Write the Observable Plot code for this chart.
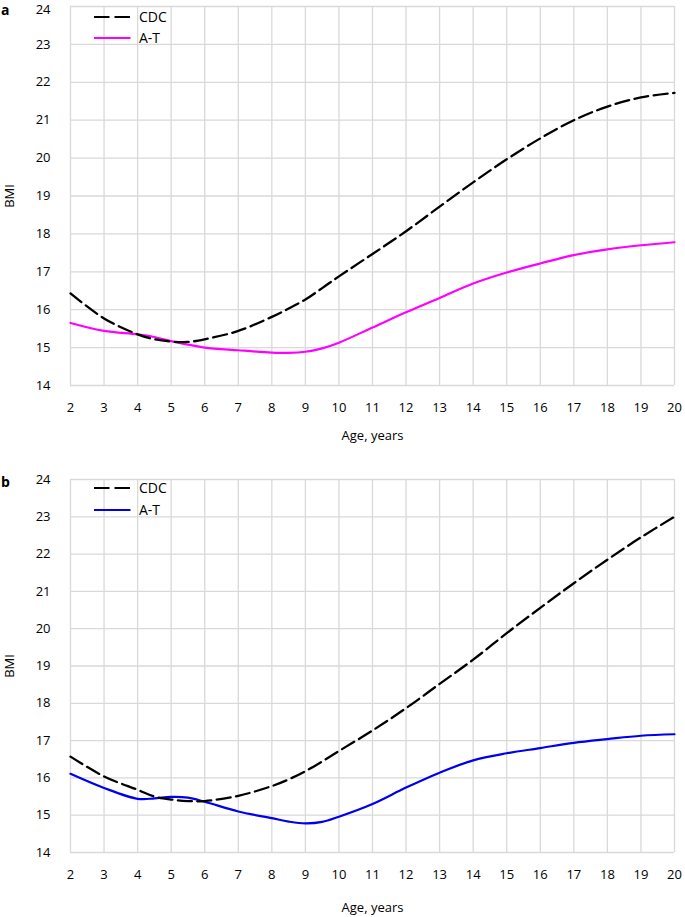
<!DOCTYPE html>
<html><head><meta charset="utf-8">
<script src="https://cdn.jsdelivr.net/npm/d3@7"></script>
<script src="https://cdn.jsdelivr.net/npm/@observablehq/plot@0.6"></script>
<style>
body{margin:0;background:#fff;font-family:"Open Sans",sans-serif;}
#wrap{position:relative;width:685px;height:917px;overflow:hidden;}
.panel{position:absolute;left:0;}
.plabel{position:absolute;left:1px;font-weight:bold;font-size:14px;line-height:14px;color:#000;font-family:"Open Sans",sans-serif;}
</style></head><body><div id="wrap"></div>
<script>
// Data
const ages = [2, 3, 4, 4.5, 5, 5.5, 6, 7, 8, 8.5, 9, 9.5, 10, 11, 12, 13, 14, 15, 16, 17, 18, 19, 20];
const cdcA = [16.43, 15.77, 15.35, 15.22, 15.16, 15.15, 15.22, 15.44, 15.81, 16.03, 16.27, 16.57, 16.88, 17.47, 18.07, 18.72, 19.36, 19.97, 20.52, 21.0, 21.36, 21.6, 21.72];
const atA  = [15.65, 15.44, 15.35, 15.28, 15.17, 15.08, 15.0, 14.93, 14.87, 14.86, 14.89, 14.98, 15.13, 15.53, 15.93, 16.31, 16.69, 16.98, 17.22, 17.44, 17.59, 17.7, 17.78];
const cdcB = [16.57, 16.04, 15.68, 15.5, 15.42, 15.38, 15.38, 15.52, 15.78, 15.96, 16.18, 16.44, 16.72, 17.27, 17.87, 18.52, 19.17, 19.88, 20.56, 21.22, 21.85, 22.45, 23.0];
const atB  = [16.11, 15.73, 15.44, 15.45, 15.49, 15.47, 15.36, 15.1, 14.92, 14.83, 14.78, 14.82, 14.96, 15.3, 15.74, 16.14, 16.47, 16.66, 16.8, 16.94, 17.04, 17.13, 17.17];
const xTicks = [2,3,4,5,6,7,8,9,10,11,12,13,14,15,16,17,18,19,20];
const yTicks = [14,15,16,17,18,19,20,21,22,23,24];
const seriesNames = ["CDC", "A-T"];
const panelLabels = ["a", "b"];
const xLabel = "Age, years";
const yLabel = "BMI";
const atColors = ["#ff00ff", "#0000ee"];

const wrap = document.getElementById("wrap");

function makePanel(cdc, at, color, top, height, mt, mb, xLabelOffset, topTickDy) {
  const rows = ages.map((a, i) => ({age: a, cdc: cdc[i], at: at[i]}));
  const lowTicks = yTicks.slice(0, -1);
  const topTick = yTicks.slice(-1);
  const chart = Plot.plot({
    width: 685, height, marginTop: mt, marginBottom: mb, marginLeft: 70, marginRight: 11,
    style: {fontFamily: "'Open Sans', sans-serif", fontSize: "13px", color: "#000", background: "transparent", overflow: "visible"},
    x: {domain: [2, 20]},
    y: {domain: [14, 24]},
    marks: [
      Plot.gridX(xTicks, {stroke: "#d9d9d9", strokeOpacity: 1, strokeWidth: 1.3}),
      Plot.gridY(yTicks, {stroke: "#d9d9d9", strokeOpacity: 1, strokeWidth: 1.3}),
      Plot.axisX(xTicks, {tickSize: 0, tickPadding: 17, label: xLabel, labelAnchor: "center", labelArrow: "none", labelOffset: xLabelOffset, fontSize: 13}),
      Plot.axisY(lowTicks, {tickSize: 0, tickPadding: 20, label: yLabel, labelAnchor: "center", labelArrow: "none", labelOffset: 66, fontSize: 13}),
      Plot.axisY(topTick, {tickSize: 0, tickPadding: 20, label: null, fontSize: 13, dy: topTickDy}),
      Plot.line(rows, {x: "age", y: "at", curve: "catmull-rom", stroke: color, strokeWidth: 2.2}),
      Plot.line(rows, {x: "age", y: "cdc", curve: "catmull-rom", stroke: "#000", strokeWidth: 2.3, strokeDasharray: "14,5.5"})
    ]
  });
  const div = document.createElement("div");
  div.className = "panel";
  div.style.top = top + "px";
  div.appendChild(chart);
  wrap.appendChild(div);
}

makePanel(cdcA, atA, atColors[0], 0, 445, 6, 60, 54, 3.5);
makePanel(cdcB, atB, atColors[1], 445, 472, 34, 65, 59, 0);

// panel labels
[[panelLabels[0], 2.5], [panelLabels[1], 475]].forEach(([t, y]) => {
  const d = document.createElement("div");
  d.className = "plabel";
  d.style.top = y + "px";
  d.textContent = t;
  wrap.appendChild(d);
});

// legends
function legend(y1, y2, color) {
  const ns = "http://www.w3.org/2000/svg";
  const svg = document.createElementNS(ns, "svg");
  svg.setAttribute("width", 685);
  svg.setAttribute("height", 917);
  svg.style.position = "absolute";
  svg.style.left = "0px";
  svg.style.top = "0px";
  const items = [
    {y: y1, stroke: "#000", dash: "15.5,5", name: seriesNames[0]},
    {y: y2, stroke: color, dash: null, name: seriesNames[1]}
  ];
  items.forEach(it => {
    const l = document.createElementNS(ns, "line");
    l.setAttribute("x1", 94); l.setAttribute("x2", 130.5);
    l.setAttribute("y1", it.y); l.setAttribute("y2", it.y);
    l.setAttribute("stroke", it.stroke); l.setAttribute("stroke-width", 2.2);
    if (it.dash) l.setAttribute("stroke-dasharray", it.dash);
    svg.appendChild(l);
    const t = document.createElementNS(ns, "text");
    t.setAttribute("x", 139); t.setAttribute("y", it.y);
    t.setAttribute("dy", "0.35em");
    t.setAttribute("font-size", 14);
    t.setAttribute("font-family", "'Open Sans', sans-serif");
    t.textContent = it.name;
    svg.appendChild(t);
  });
  wrap.appendChild(svg);
}
legend(17, 38, atColors[0]);
legend(488, 510, atColors[1]);
</script></body></html>
